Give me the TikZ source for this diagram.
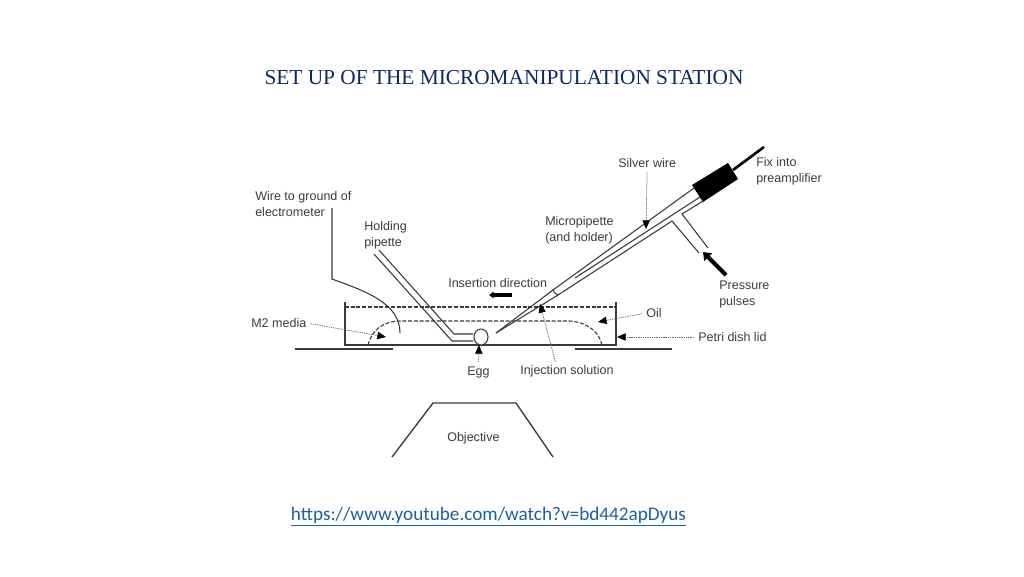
\documentclass[tikz,border=0pt]{standalone}
\usepackage{fontspec}
\setmainfont{Liberation Sans}
\newfontfamily\titlefont{Liberation Serif}
\newfontfamily\linkfont{Carlito}
\usetikzlibrary{arrows.meta,shapes.geometric}
\definecolor{titleblue}{HTML}{0B2A5E}
\definecolor{linkblue}{HTML}{1F5FA6}
\definecolor{ink}{HTML}{3A3A3A}
\definecolor{txt}{HTML}{3C3C3C}
\definecolor{notegray}{HTML}{6E6E6E}
\tikzset{
  x=0.75pt,y=-0.75pt,
  lbl/.style={inner sep=0pt,anchor=west,align=left,text=txt,font=\fontsize{9.4}{12}\selectfont},
  wall/.style={draw=ink,line width=1pt},
  thin line/.style={draw=ink,line width=0.8pt},
  dash line/.style={draw=ink,line width=0.8pt,dash pattern=on 3pt off 1.3pt},
  note/.style={draw=notegray,line width=0.55pt,dash pattern=on 1pt off 0.7pt,shorten <=3pt},
  tipped/.style={-{Triangle[length=6.5pt,width=5.5pt,fill=black,color=black]}},
  block/.style={draw=black,line width=3pt,-{Triangle[length=5.5pt,width=8pt,fill=black,color=black]}},
}
\begin{document}
\begin{tikzpicture}
\useasboundingbox (0,0) rectangle (1024,576);
\fill[white] (0,0) rectangle (1024,576);
% titles
\node[inner sep=0pt,text=titleblue,font=\titlefont\fontsize{16}{18}\selectfont] (title) at (504,78) {SET UP OF THE MICROMANIPULATION STATION};
\node[inner sep=0pt,text=linkblue,font=\linkfont\fontsize{14.4}{16}\selectfont] (link) at (488.5,517) {\underline{https://www.youtube.com/watch?v=bd442apDyus}};
% dish
\coordinate (dtl) at (345,302); \coordinate (dbl) at (345,345);
\coordinate (dbr) at (616,345); \coordinate (dtr) at (616,302);
\draw[wall] (dtl) -- (dbl) -- (dbr) -- (dtr);
\draw[wall] (295,349) -- (393,349);
\draw[wall] (575,349) -- (672,349);
\draw[dash line] (345,307) -- (616,307);
\draw[dash line] (368,345) .. controls (371,331) and (383,321) .. (400,321) -- (570,321) .. controls (586,322) and (599,331) .. (602,345);
% ground wire
\draw[thin line] (332,208) -- (332,279) .. controls (368,292) and (400,304) .. (400,333);
% holding pipette
\draw[thin line] (379,250) -- (454,334) -- (473,334);
\draw[thin line] (374,254) -- (452,341) -- (473,341);
% egg
\node[draw=ink,line width=0.8pt,fill=white,ellipse,inner sep=0pt,minimum width=10.5pt,minimum height=12pt] (egg) at (481,337) {};
% micropipette
\draw[thin line] (496,333) -- (553,290) -- (694,188);
\draw[thin line] (496,333) -- (558,295) -- (672,221) -- (699,253);
\draw[thin line] (575,278) -- (700,197);
\draw[thin line] (708,248) -- (682,214) -- (703,201);
\draw[thin line] (553,289) .. controls (553,292) and (555,294) .. (558,295);
% holder block and wire
\fill[black] (692,185) -- (728,163) -- (738,179) -- (703,202) -- cycle;
\draw[black,line width=2pt] (733,170) -- (764,147);
% fat arrows
\coordinate (pa) at (726,275); \coordinate (pb) at (703,252);
\draw[block] (pa) -- (pb);
\coordinate (ia) at (512,295); \coordinate (ib) at (489,295);
\draw[draw=black,line width=2.5pt,-{Triangle[length=3.5pt,width=5pt,fill=black,color=black]}] (ia) -- (ib);
% objective
\draw[wall] (392,457) -- (433,403) -- (516,403) -- (553,457);
% labels
\node[lbl] (lsilver) at (618,163) {Silver wire};
\node[lbl] (lfix) at (756,171) {Fix into\\preamplifier};
\node[lbl] (lwire) at (255,204) {Wire to ground of\\electrometer};
\node[lbl] (lhold) at (364,235) {Holding\\pipette};
\node[lbl] (lmicro) at (545,230) {Micropipette\\(and holder)};
\node[lbl] (lins) at (448,283) {Insertion direction};
\node[lbl] (lpress) at (719,294) {Pressure\\pulses};
\node[lbl] (loil) at (646,313) {Oil};
\node[lbl] (lpetri) at (698,337) {Petri dish lid};
\node[lbl] (lm2) at (251,323) {M2 media};
\node[lbl] (legg) at (467,372) {Egg};
\node[lbl] (linj) at (520,371.5) {Injection solution};
\node[lbl] (lobj) at (447,438) {Objective};
% leaders
\coordinate (tsilver) at (646,229);
\coordinate (tm2) at (386,337);
\coordinate (tegg) at (479,345);
\coordinate (toil) at (598,322);
\coordinate (tpetri) at (617,337);
\coordinate (tinj) at (540,304);
\draw[note,tipped] (lsilver.south) -- (tsilver);
\draw[note,tipped] (lm2.east) -- (tm2);
\draw[note,tipped] (legg.north) -- (tegg);
\draw[note,tipped] (loil.west) -- (toil);
\draw[note,tipped] (lpetri.west) -- (tpetri);
\draw[note,tipped] (linj.150) -- (tinj);
\end{tikzpicture}
\end{document}
